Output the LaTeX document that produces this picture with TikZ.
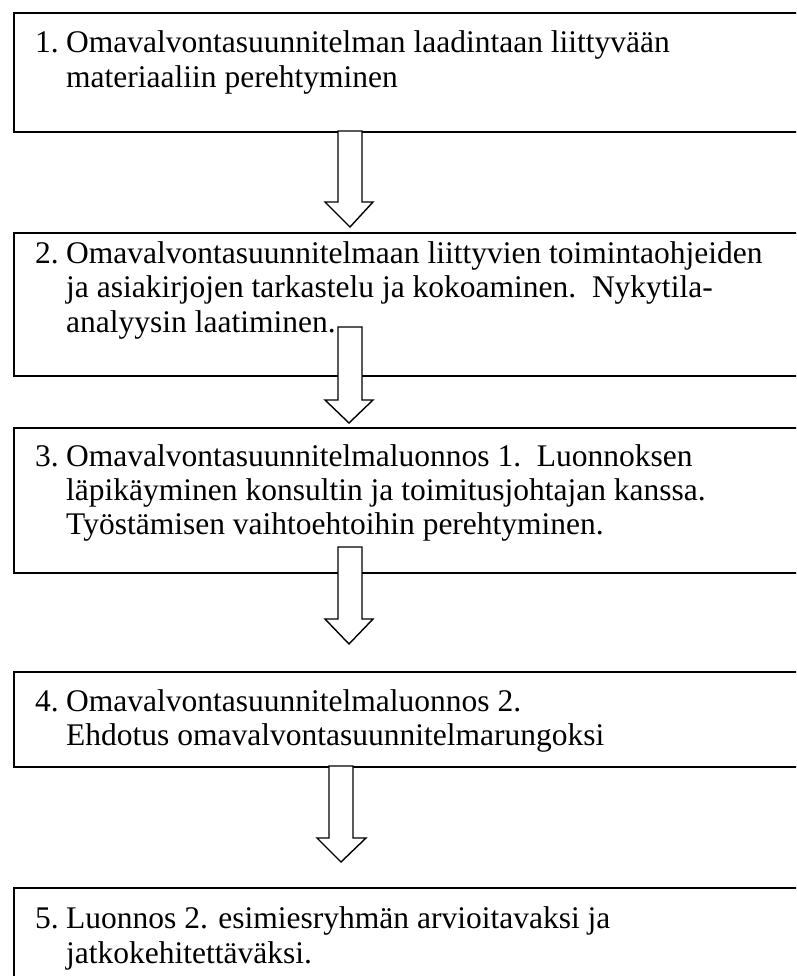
\documentclass[tikz,border=0pt]{standalone}
\usepackage{fontspec}
\setmainfont{Liberation Serif}
\begin{document}
\begin{tikzpicture}[x=1pt,y=-1pt,
  boxstyle/.style={draw=black,line width=1.6pt,fill=white,rectangle,inner sep=0pt,anchor=north west,minimum width=820pt},
  linetext/.style={anchor=base west,inner sep=0pt,font=\fontsize{31.5}{34.5}\selectfont},
  blockarrow/.style={draw=black,line width=1.4pt,fill=white,line join=miter}]
\useasboundingbox (0,0) rectangle (796,976);
\clip (0,0) rectangle (796,976);
\fill[white] (0,0) rectangle (796,976);
% boxes
\node[boxstyle,minimum height=119pt] (b1) at (13,12) {};
\node[boxstyle,minimum height=143pt] (b2) at (13,232) {};
\node[boxstyle,minimum height=145pt] (b3) at (13,427) {};
\node[boxstyle,minimum height=95pt] (b4) at (13,671) {};
\node[boxstyle,minimum height=140pt] (b5) at (13,887) {};
% texts
\node[linetext] (t1a) at (35,53) {\makebox[31pt][l]{1.}Omavalvontasuunnitelman laadintaan liittyvään};
\node[linetext] (t1b) at (66,88) {materiaaliin perehtyminen};
\node[linetext] (t2a) at (35,263) {\makebox[31pt][l]{2.}Omavalvontasuunnitelmaan liittyvien toimintaohjeiden};
\node[linetext] (t2b) at (66,297) {ja asiakirjojen tarkastelu ja kokoaminen.\ \ Nykytila-};
\node[linetext] (t2c) at (66,332) {analyysin laatiminen.};
\node[linetext] (t3a) at (35,466) {\makebox[31pt][l]{3.}Omavalvontasuunnitelmaluonnos 1.\ \ Luonnoksen};
\node[linetext] (t3b) at (66,500) {läpikäyminen konsultin ja toimitusjohtajan kanssa.};
\node[linetext] (t3c) at (66,534) {Työstämisen vaihtoehtoihin perehtyminen.};
\node[linetext] (t4a) at (35,711) {\makebox[31pt][l]{4.}Omavalvontasuunnitelmaluonnos 2.};
\node[linetext] (t4b) at (66,745) {Ehdotus omavalvontasuunnitelmarungoksi};
\node[linetext] (t5a) at (35,928) {\makebox[31pt][l]{5.}Luonnos 2. esimiesryhmän arvioitavaksi ja};
\node[linetext] (t5b) at (66,963) {jatkokehitettäväksi.};
% block arrows
\draw[blockarrow] (338,131) -- (362,131) -- (362,202) -- (373,202) -- (350,227) -- (325,202) -- (338,202) -- cycle;
\draw[blockarrow] (338,327) -- (362,327) -- (362,400) -- (373,400) -- (349,423) -- (325,400) -- (338,400) -- cycle;
\draw[blockarrow] (338,547) -- (362,547) -- (362,619) -- (373,619) -- (349,644) -- (325,619) -- (338,619) -- cycle;
\draw[blockarrow] (329,766) -- (353,766) -- (353,838) -- (366,838) -- (341,862) -- (317,838) -- (329,838) -- cycle;
\end{tikzpicture}
\end{document}
